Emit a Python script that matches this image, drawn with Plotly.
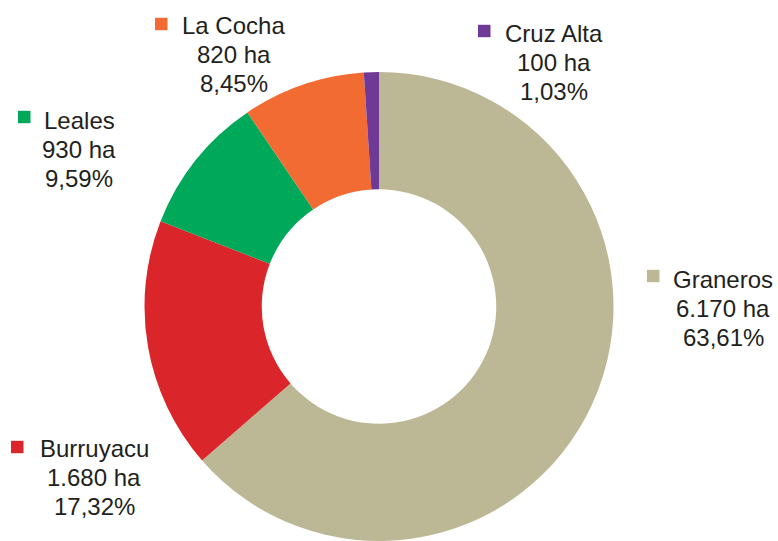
import plotly.graph_objects as go

labels = ["Graneros", "Burruyacu", "Leales", "La Cocha", "Cruz Alta"]
hectares = [6170, 1680, 930, 820, 100]
ha_text = ["6.170 ha", "1.680 ha", "930 ha", "820 ha", "100 ha"]
pct_text = ["63,61%", "17,32%", "9,59%", "8,45%", "1,03%"]
colors = ["#BCB794", "#DA262A", "#00A859", "#F26B32", "#6E3A96"]

W, H = 778, 541
# label layout (pixels): text center x, first line center y, marker left x, marker center y
label_pos = {
    "Graneros": (723, 278.5, 647, 276),
    "Burruyacu": (94, 447.5, 11, 447),
    "Leales": (79, 120, 18, 117),
    "La Cocha": (234, 24.5, 155, 24),
    "Cruz Alta": (554, 32.5, 478, 31),
}
line_gap = 28.8

fig = go.Figure(go.Pie(
    labels=labels, values=hectares, marker=dict(colors=colors, line=dict(width=0)),
    hole=0.5, sort=False, direction="clockwise", rotation=0,
    textinfo="none", hoverinfo="label+value+percent", showlegend=False,
    domain=dict(x=[(379 - 236) / W, (379 + 236) / W], y=[0, 1 - 72 / H]),
))

ann = []
shapes = []
font = dict(family="Liberation Sans, Arial, sans-serif", size=24, color="#231F20")
for i, lab in enumerate(labels):
    cx, cy, mx, my = label_pos[lab]
    for j, t in enumerate([lab, ha_text[i], pct_text[i]]):
        y = cy + j * line_gap
        ann.append(dict(x=cx / W, y=1 - (y + 1) / H, xref="paper", yref="paper",
                        text=t, showarrow=False, xanchor="center", yanchor="middle",
                        font=font))
    shapes.append(dict(type="rect", xref="paper", yref="paper",
                       x0=mx / W, x1=(mx + 12.5) / W,
                       y0=1 - (my - 6.2) / H, y1=1 - (my + 6.2) / H,
                       fillcolor=colors[i], line=dict(width=0)))

fig.update_layout(width=W, height=H, margin=dict(l=0, r=0, t=0, b=0),
                  paper_bgcolor="white", plot_bgcolor="white",
                  annotations=ann, shapes=shapes)
fig.write_html("out.html", config={"displayModeBar": False},
               post_script="document.body.style.margin='0';")
